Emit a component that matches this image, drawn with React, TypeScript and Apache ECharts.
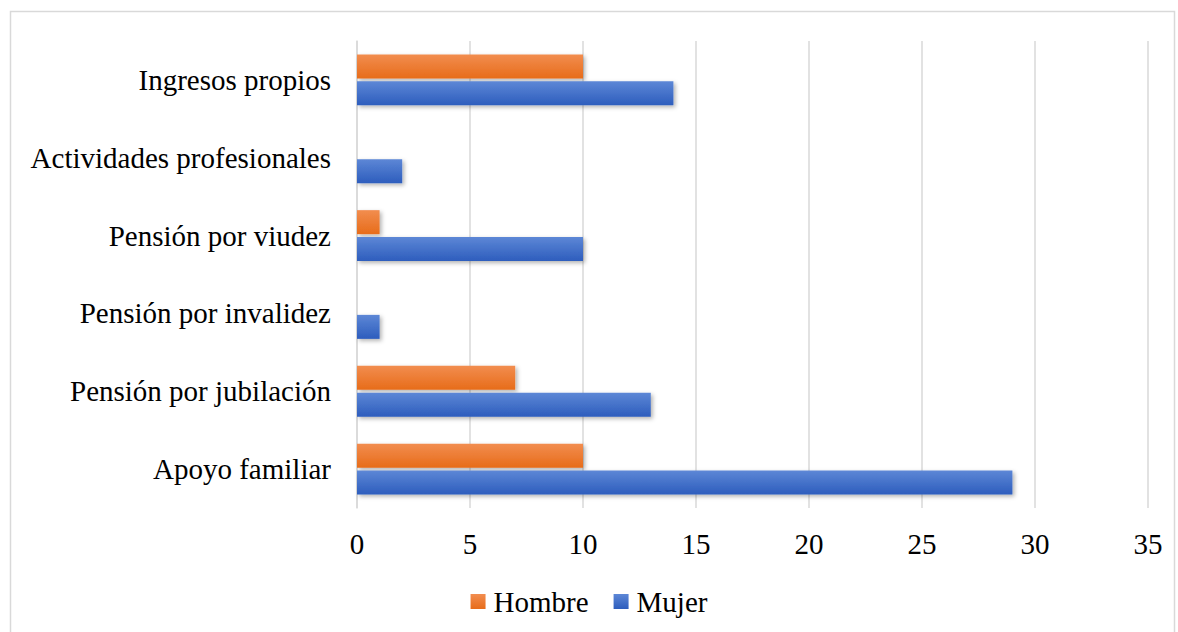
import React, { useEffect, useRef } from "react";
import * as echarts from "echarts";

const categories = [
  "Apoyo familiar",
  "Pensión por jubilación",
  "Pensión por invalidez",
  "Pensión por viudez",
  "Actividades profesionales",
  "Ingresos propios",
];
const hombre = [10, 7, 0, 1, 0, 10];
const mujer = [29, 13, 1, 10, 2, 14];
const xTicks = { min: 0, max: 35, interval: 5 };

const FONT = "Liberation Serif";

export default function App() {
  const ref = useRef<HTMLDivElement>(null);
  useEffect(() => {
    if (!ref.current) return;
    const chart = echarts.init(ref.current, null, { renderer: "svg" });
    const grad = (a: string, b: string) =>
      new echarts.graphic.LinearGradient(0, 0, 0, 1, [
        { offset: 0, color: a },
        { offset: 1, color: b },
      ]);
    const shadow = {
      shadowBlur: 4,
      shadowOffsetX: 2,
      shadowOffsetY: 2,
      shadowColor: "rgba(0,0,0,0.3)",
    };
    chart.setOption({
      animation: false,
      backgroundColor: "#ffffff",
      textStyle: { fontFamily: FONT },
      graphic: [
        {
          type: "rect",
          shape: { x: 10.5, y: 11.5, width: 1164, height: 640 },
          style: { fill: "none", stroke: "#d9d9d9", lineWidth: 1.5 },
          silent: true,
        },
      ],
      legend: {
        data: ["Hombre", "Mujer"],
        top: 582,
        left: "center",
        itemWidth: 15,
        itemHeight: 15,
        itemGap: 25,
        icon: "rect",
        textStyle: { fontFamily: FONT, fontSize: 29, color: "#000", padding: [0, 0, 0, 3] },
      },
      grid: { left: 357, right: 30, top: 41, height: 467, containLabel: false },
      xAxis: {
        type: "value",
        min: xTicks.min,
        max: xTicks.max,
        interval: xTicks.interval,
        axisLine: { show: false },
        axisTick: { show: false },
        splitLine: { show: true, lineStyle: { color: "#d9d9d9", width: 1.5 } },
        axisLabel: { fontFamily: FONT, fontSize: 29, color: "#000", margin: 21 },
      },
      yAxis: {
        type: "category",
        data: categories,
        axisLine: { show: true, lineStyle: { color: "#d9d9d9", width: 1.5 } },
        axisTick: { show: false },
        axisLabel: { fontFamily: FONT, fontSize: 29, color: "#000", margin: 26 },
      },
      series: [
        {
          name: "Hombre",
          type: "bar",
          data: hombre,
          barWidth: 24,
          barGap: "12%",
          itemStyle: { color: grad("#f28d4f", "#e76c1a"), ...shadow },
        },
        {
          name: "Mujer",
          type: "bar",
          data: mujer,
          barWidth: 24,
          barGap: "12%",
          itemStyle: { color: grad("#5d87d6", "#2d5dbd"), ...shadow },
        },
      ],
    });
    return () => chart.dispose();
  }, []);
  return (
    <div
      ref={ref}
      style={{ position: "fixed", left: 0, top: 0, width: 1178, height: 632 }}
    />
  );
}
